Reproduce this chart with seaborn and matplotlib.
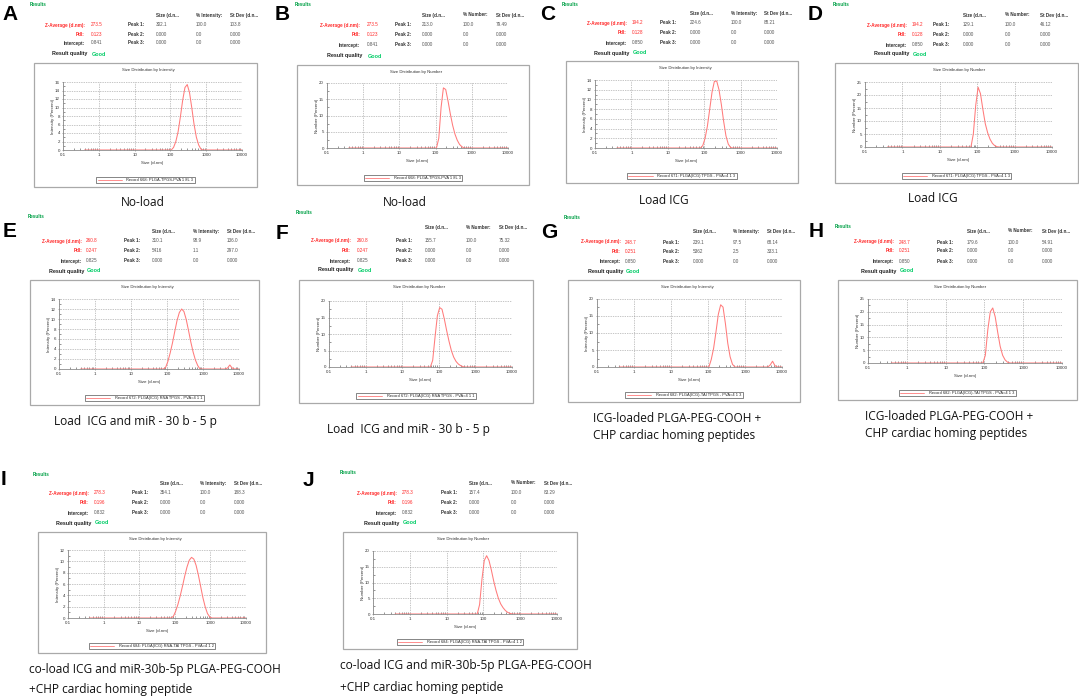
import matplotlib
matplotlib.use("Agg")
import matplotlib.pyplot as plt
import matplotlib.ticker as mticker
from matplotlib.patches import Rectangle
from matplotlib.lines import Line2D
import pandas as pd
import seaborn as sns

# ── Style ─────────────────────────────────────────────────────
sns.set_theme(style="white")
plt.rcParams["font.family"] = ["Liberation Sans", "DejaVu Sans"]
W, H = 1079, 699
CURVE = "#ff7b7b"
RED = "#ff2a2a"
GREEN_DARK = "#00a046"
GREEN = "#00cc66"

# ── Data (read off the DLS reports) ───────────────────────────
# size bins of the instrument (nm), 0.4 nm then 50 nm .. 10000 nm
size_bins = [0.4, 50.75, 58.77, 68.06, 78.82, 91.28, 105.7, 122.4, 141.8, 164.2,
             190.1, 220.2, 255.0, 295.3, 342.0, 396.1, 458.7, 531.2, 615.1, 712.4,
             825.0, 955.4, 1106, 1281, 1484, 1718, 1990, 2305, 2669, 3091,
             3580, 4145, 4801, 5560, 6439, 7456, 8635, 10000]

dist_A = [0, 0, 0, 0, 0, 0, 0, 0.6, 2.0, 4.3, 7.8, 11.7, 14.7, 15.4, 13.5, 9.9, 6.0, 3.0, 1.2, 0.2,
          0, 0, 0, 0, 0, 0, 0, 0, 0, 0, 0, 0, 0, 0, 0, 0, 0, 0]
dist_B = [0, 0, 0, 0, 0, 0, 0, 3, 12.5, 18.5, 18, 14.5, 10.5, 7, 4.3, 2.4, 1.1, 0.4, 0, 0,
          0, 0, 0, 0, 0, 0, 0, 0, 0, 0, 0, 0, 0, 0, 0, 0, 0, 0]
dist_C = [0, 0, 0, 0, 0, 0.5, 2, 4.5, 8, 11.5, 13.7, 13.8, 12, 9, 5.5, 2.5, 0.8, 0.1, 0, 0,
          0, 0, 0, 0, 0, 0, 0, 0, 0, 0, 0, 0, 0, 0, 0, 0, 0, 0]
dist_D = [0, 0, 0, 0, 5, 16, 23, 20.5, 14.5, 9, 5.5, 3, 1.4, 0.5, 0.1, 0, 0, 0, 0, 0,
          0, 0, 0, 0, 0, 0, 0, 0, 0, 0, 0, 0, 0, 0, 0, 0, 0, 0]
dist_E = [0, 0, 0, 0, 0, 0.3, 1.5, 3.2, 5.2, 7.5, 9.7, 11.3, 12.0, 11.5, 9.9, 7.7, 5.4, 3.4, 1.8, 0.7,
          0, 0, 0, 0, 0, 0, 0, 0, 0, 0, 0, 0, 0.2, 0.8, 0.2, 0, 0, 0]
dist_F = [0, 0, 0, 2, 9, 15.5, 18, 17.5, 14.5, 11, 7.8, 5, 3, 1.7, 0.9, 0.4, 0.1, 0, 0, 0,
          0, 0, 0, 0, 0, 0, 0, 0, 0, 0, 0, 0, 0, 0, 0, 0, 0, 0]
dist_G = [0, 0, 0, 0, 0, 0, 0, 2.2, 5.5, 10.3, 15.5, 18.3, 17.6, 12.8, 7.0, 3.0, 0.8, 0, 0, 0,
          0, 0, 0, 0, 0, 0, 0, 0, 0, 0, 0, 0, 0.6, 1.7, 0.4, 0, 0, 0]
dist_H = [0, 0, 0, 0, 0, 0, 3, 13, 20, 21.5, 18, 12, 6.5, 3, 1.2, 0.3, 0, 0, 0, 0,
          0, 0, 0, 0, 0, 0, 0, 0, 0, 0, 0, 0, 0, 0, 0, 0, 0, 0]
dist_I = [0, 0, 0, 0, 0, 0.3, 1.2, 2.4, 3.9, 5.6, 7.4, 9.0, 10.2, 10.7, 10.4, 9.3, 7.6, 5.6, 3.6, 2.0,
          0.8, 0.2, 0, 0, 0, 0, 0, 0, 0, 0, 0, 0, 0, 0, 0, 0, 0, 0]
dist_J = [0, 0, 0, 0, 3, 11, 17, 18.5, 17, 14, 10.5, 7.5, 5, 3.2, 2, 1.1, 0.5, 0.2, 0, 0,
          0, 0, 0, 0, 0, 0, 0, 0, 0, 0, 0, 0, 0, 0, 0, 0, 0, 0]

panel_letters = ["A", "B", "C", "D", "E", "F", "G", "H", "I", "J"]
dist_values = [dist_A, dist_B, dist_C, dist_D, dist_E, dist_F, dist_G, dist_H, dist_I, dist_J]
dist_kind = ["Intensity", "Number"] * 5
y_max = [16, 20, 14, 25, 14, 20, 20, 25, 12, 20]
y_step = [2, 5, 2, 5, 2, 5, 5, 5, 2, 5]
x_ticks = [0.1, 1, 10, 100, 1000, 10000]
x_tick_labels = ["0.1", "1", "10", "100", "1000", "10000"]

z_average = ["273.5", "273.5", "194.2", "194.2", "260.8", "260.8", "248.7", "248.7", "278.3", "278.3"]
pdi = ["0.123", "0.123", "0.128", "0.128", "0.247", "0.247", "0.251", "0.251", "0.196", "0.196"]
intercept = ["0.841", "0.841", "0.850", "0.850", "0.825", "0.825", "0.850", "0.850", "0.832", "0.832"]
peak_size = [["302.1", "0.000", "0.000"], ["213.0", "0.000", "0.000"],
             ["224.6", "0.000", "0.000"], ["129.1", "0.000", "0.000"],
             ["310.1", "5416", "0.000"], ["155.7", "0.000", "0.000"],
             ["239.1", "5362", "0.000"], ["179.6", "0.000", "0.000"],
             ["354.1", "0.000", "0.000"], ["157.4", "0.000", "0.000"]]
peak_pct = [["100.0", "0.0", "0.0"], ["100.0", "0.0", "0.0"],
            ["100.0", "0.0", "0.0"], ["100.0", "0.0", "0.0"],
            ["98.9", "1.1", "0.0"], ["100.0", "0.0", "0.0"],
            ["97.5", "2.5", "0.0"], ["100.0", "0.0", "0.0"],
            ["100.0", "0.0", "0.0"], ["100.0", "0.0", "0.0"]]
peak_sd = [["103.8", "0.000", "0.000"], ["79.49", "0.000", "0.000"],
           ["88.21", "0.000", "0.000"], ["46.12", "0.000", "0.000"],
           ["136.0", "297.0", "0.000"], ["75.32", "0.000", "0.000"],
           ["68.14", "333.1", "0.000"], ["54.91", "0.000", "0.000"],
           ["188.3", "0.000", "0.000"], ["83.29", "0.000", "0.000"]]
record_label = ["Record 668: PLGA-TPGS-PVA 1 8L 3", "Record 668: PLGA-TPGS-PVA 1 8L 3",
                "Record 671: PLGA(ICG) TPGS - PVA=4 1 3", "Record 671: PLGA(ICG) TPGS - PVA=4 1 3",
                "Record 672: PLGA(ICG) RNA TPGS - PVA=4 1 1", "Record 672: PLGA(ICG) RNA TPGS - PVA=4 1 1",
                "Record 682: PLGA(ICG)-TAI TPGS - PVA=4 1 3", "Record 682: PLGA(ICG)-TAI TPGS - PVA=4 1 3",
                "Record 684: PLGA(ICG) RNA-TAI TPGS - PVA=4 1 2", "Record 684: PLGA(ICG) RNA-TAI TPGS - PVA=4 1 2"]
captions = [["No-load"], ["No-load"], ["Load ICG"], ["Load ICG"],
            ["Load  ICG and miR - 30 b - 5 p"], ["Load  ICG and miR - 30 b - 5 p"],
            ["ICG-loaded PLGA-PEG-COOH +", "CHP cardiac homing peptides"],
            ["ICG-loaded PLGA-PEG-COOH +", "CHP cardiac homing peptides"],
            ["co-load ICG and miR-30b-5p PLGA-PEG-COOH", "+CHP cardiac homing peptide"],
            ["co-load ICG and miR-30b-5p PLGA-PEG-COOH", "+CHP cardiac homing peptide"]]

# ── Layout (pixels in the 1079x699 picture) ───────────────────
# letter baseline, "Results" spot, table columns / rows, frame box, plot box, caption
LAYOUT = [
    dict(letter=(2, 20), results=(30, 5), cols=(85, 91, 128, 156, 196, 230), rows=(15, 25, 34, 43, 54),
         frame=(34, 63, 257, 187), axes=(63, 82, 242, 150), cap=("center", 143, (203,))),
    dict(letter=(275, 20), results=(295, 4), cols=(360, 367, 395, 422, 463, 496), rows=(15, 25, 35, 45, 56),
         frame=(297, 65, 529, 185), axes=(327, 83, 508, 148), cap=("center", 405, (203,))),
    dict(letter=(540, 20), results=(562, 4), cols=(627, 632, 660, 690, 731, 764), rows=(14, 23, 33, 43, 53),
         frame=(566, 61, 798, 183), axes=(595, 80, 777, 148), cap=("center", 664, (200,))),
    dict(letter=(808, 20), results=(833, 5), cols=(907, 912, 933, 963, 1005, 1040), rows=(15, 25, 35, 45, 54),
         frame=(835, 63, 1078, 183), axes=(865, 82, 1052, 147), cap=("center", 933, (199,))),
    dict(letter=(3, 237), results=(28, 217), cols=(82, 86, 124, 152, 193, 227), rows=(231, 241, 251, 261, 271),
         frame=(30, 280, 259, 405), axes=(59, 299, 239, 369), cap=("center", 135, (422,))),
    dict(letter=(276, 239), results=(296, 212), cols=(351, 357, 396, 425, 466, 499), rows=(228, 240, 250, 261, 270),
         frame=(299, 280, 533, 403), axes=(329, 301, 512, 367), cap=("center", 408, (430,))),
    dict(letter=(541, 238), results=(564, 218), cols=(621, 625, 663, 693, 733, 767), rows=(232, 242, 252, 262, 272),
         frame=(568, 280, 800, 402), axes=(597, 299, 782, 367), cap=("left", 593, (419, 436))),
    dict(letter=(809, 237), results=(835, 226), cols=(894, 899, 937, 967, 1008, 1042), rows=(231, 242, 251, 262, 271),
         frame=(838, 280, 1077, 400), axes=(868, 299, 1062, 363), cap=("left", 865, (417, 434))),
    dict(letter=(1, 485), results=(33, 474), cols=(89, 94, 132, 160, 200, 234), rows=(483, 493, 503, 513, 523),
         frame=(38, 532, 266, 653), axes=(68, 550, 246, 618), cap=("left", 29, (670, 690))),
    dict(letter=(303, 486), results=(340, 473), cols=(397, 402, 441, 469, 511, 544), rows=(483, 493, 503, 513, 523),
         frame=(343, 532, 577, 649), axes=(373, 551, 557, 614), cap=("left", 340, (665, 687))),
]

TBL = 3.3      # table font size (pt)
TICK = 3.2


def fxy(x, y):
    return x / W, 1 - y / H


def put(fig, x, y, s, **kw):
    kw.setdefault("va", "center")
    kw.setdefault("fontsize", TBL)
    fig.text(*fxy(x, y), s, **kw)


fig = plt.figure(figsize=(W / 100, H / 100), dpi=100)
fig.patch.set_facecolor("white")

for i, lay in enumerate(LAYOUT):
    kind = dist_kind[i]

    # panel letter and header
    put(fig, *lay["letter"], panel_letters[i], fontsize=15, fontweight="bold", va="baseline", color="black")
    put(fig, *lay["results"], "Results", color=GREEN_DARK, fontweight="bold", ha="left")

    lr, vx, pkx, sx, pcx, sdx = lay["cols"]
    hy, r1, r2, r3, qy = lay["rows"]
    put(fig, sx, hy, "Size (d.n...", fontweight="bold", color="#333")
    put(fig, pcx, hy, f"% {kind}:", fontweight="bold", color="#333")
    put(fig, sdx, hy, "St Dev (d.n...", fontweight="bold", color="#333")
    put(fig, lr, r1, "Z-Average (d.nm):", ha="right", color=RED, fontweight="bold")
    put(fig, vx, r1, z_average[i], color=RED)
    put(fig, lr, r2, "PdI:", ha="right", color=RED, fontweight="bold")
    put(fig, vx, r2, pdi[i], color=RED)
    put(fig, lr, r3, "Intercept:", ha="right", color="#333", fontweight="bold")
    put(fig, vx, r3, intercept[i], color="#555")
    put(fig, lr + 2, qy, "Result quality", ha="right", color="#222", fontweight="bold", fontsize=TBL + 0.6)
    put(fig, vx + 1, qy, "Good", color=GREEN, fontweight="bold", fontsize=TBL + 0.6)
    for k, ry in enumerate((r1, r2, r3)):
        put(fig, pkx, ry, f"Peak {k + 1}:", color="#333", fontweight="bold")
        put(fig, sx, ry, peak_size[i][k], color="#555")
        put(fig, pcx, ry, peak_pct[i][k], color="#555")
        put(fig, sdx, ry, peak_sd[i][k], color="#555")

    # grey report frame
    x0, y0, x1, y1 = lay["frame"]
    fig.add_artist(Rectangle(fxy(x0, y1), (x1 - x0) / W, (y1 - y0) / H, transform=fig.transFigure,
                             fill=False, edgecolor="#a9a9a9", linewidth=0.9))
    put(fig, (x0 + x1) / 2 + 3, y0 + 7, f"Size Distribution by {kind}", ha="center", color="#333",
        fontsize=TBL - 0.2)

    # the distribution plot
    a0, b0, a1, b1 = lay["axes"]
    ax = fig.add_axes([a0 / W, 1 - b1 / H, (a1 - a0) / W, (b1 - b0) / H])
    df = pd.DataFrame({"size": size_bins, "pct": dist_values[i]})
    sns.lineplot(data=df, x="size", y="pct", ax=ax, color=CURVE, linewidth=0.75,
                 estimator=None, sort=False)
    ax.set_xscale("log")
    ax.set_xlim(0.1, 10000)
    ax.set_ylim(0, y_max[i])
    ax.set_xticks(x_ticks)
    ax.set_xticklabels(x_tick_labels)
    ax.set_yticks(list(range(0, y_max[i] + 1, y_step[i])))
    ax.xaxis.set_minor_locator(mticker.LogLocator(base=10, subs=range(2, 10), numticks=20))
    ax.xaxis.set_minor_formatter(mticker.NullFormatter())
    ax.yaxis.set_minor_locator(mticker.AutoMinorLocator(2))
    ax.tick_params(which="major", bottom=True, left=True, labelsize=TICK, length=2, width=0.4,
                   direction="inout", color="#666", pad=1.2, labelcolor="#333")
    ax.tick_params(which="minor", bottom=True, left=True, length=1.2, width=0.4,
                   direction="in", color="#444")
    ax.grid(True, which="major", linestyle=(0, (1, 1.5)), color="#8c8c8c", linewidth=0.5)
    for sp in ("top", "right"):
        ax.spines[sp].set_visible(False)
    for sp in ("left", "bottom"):
        ax.spines[sp].set_color("#8c8c8c")
        ax.spines[sp].set_linewidth(0.6)
    ax.set_xlabel("")
    ax.set_ylabel("")
    put(fig, (a0 + a1) / 2, b1 + 13, "Size (d.nm)", ha="center", color="#333", fontsize=TICK)
    put(fig, a0 - 10, (b0 + b1) / 2, f"{kind} (Percent)", ha="center", rotation=90, color="#333",
        fontsize=TICK)

    handle = Line2D([], [], color=CURVE, linewidth=0.6)
    leg = ax.legend([handle], [record_label[i]], loc="center",
                    bbox_to_anchor=fxy((x0 + x1) / 2, y1 - 7), bbox_transform=fig.transFigure,
                    fontsize=2.9, frameon=True, fancybox=False, edgecolor="#555", framealpha=1,
                    borderpad=0.35, handlelength=6, handletextpad=1.2)
    leg.get_frame().set_linewidth(0.5)

    # caption under the report
    align, cx, cys = lay["cap"]
    for line, cy in zip(captions[i], cys):
        put(fig, cx, cy, line, ha=align, fontsize=8.6, color="#111",
            family=["Open Sans", "DejaVu Sans"])

fig.savefig("out.png", dpi=100)
plt.close(fig)
